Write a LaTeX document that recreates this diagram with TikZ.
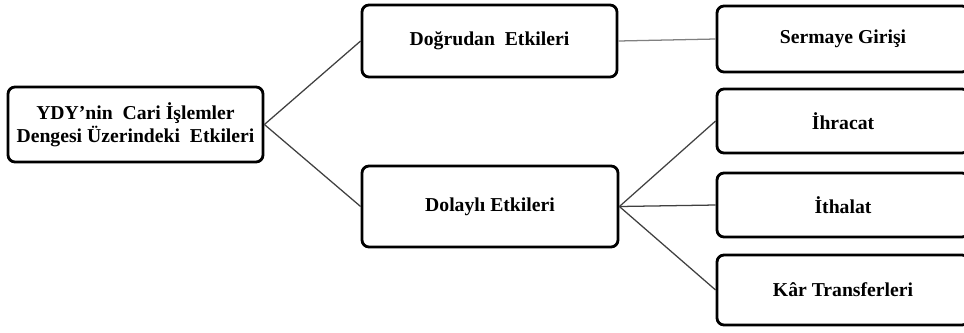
\documentclass[tikz,border=0pt]{standalone}
\usepackage{fontspec}
\setmainfont{Liberation Serif}
\tikzset{box/.style={draw=black, line width=2pt, rounded corners=5pt,
   font=\bfseries\fontsize{14}{16}\selectfont, align=center, inner sep=0pt},
 link/.style={draw=black!75, line width=0.9pt},
 }

\begin{document}
\begin{tikzpicture}
        \useasboundingbox (0,0) rectangle (24.1,-8.3);
        \node[box, minimum width=6.375cm, minimum height=1.875cm] (ydy) at (3.3875,-3.1125) {YDY'nin~ Cari İşlemler\\Dengesi Üzerindeki~ Etkileri};
        \node[box, minimum width=6.375cm, minimum height=1.8cm] (dogrudan) at (12.2375,-1.025) {Doğrudan~ Etkileri};
        \node[box, minimum width=6.4cm, minimum height=2.025cm] (dolayli) at (12.25,-5.1625) {Dolaylı Etkileri};
        \node[box, minimum width=6.3cm, minimum height=1.65cm] (sermaye) at (21.075,-0.975) {Sermaye Girişi};
        \node[box, minimum width=6.3cm, minimum height=1.6cm] (ihracat) at (21.075,-3.025) {İhracat};
        \node[box, minimum width=6.3cm, minimum height=1.6cm] (ithalat) at (21.075,-5.125) {İthalat};
        \node[box, minimum width=6.3cm, minimum height=1.75cm] (kar) at (21.075,-7.25) {Kâr Transferleri};
        \draw[link] (ydy.east) -- (dogrudan.west);
        \draw[link] (ydy.east) -- (dolayli.west);
        \draw[link, draw=black!50] (dogrudan.east) -- (sermaye.west);
        \draw[link] (dolayli.east) -- (ihracat.west);
        \draw[link] (dolayli.east) -- (ithalat.west);
        \draw[link] (dolayli.east) -- (kar.west);
    \end{tikzpicture}
\end{document}
